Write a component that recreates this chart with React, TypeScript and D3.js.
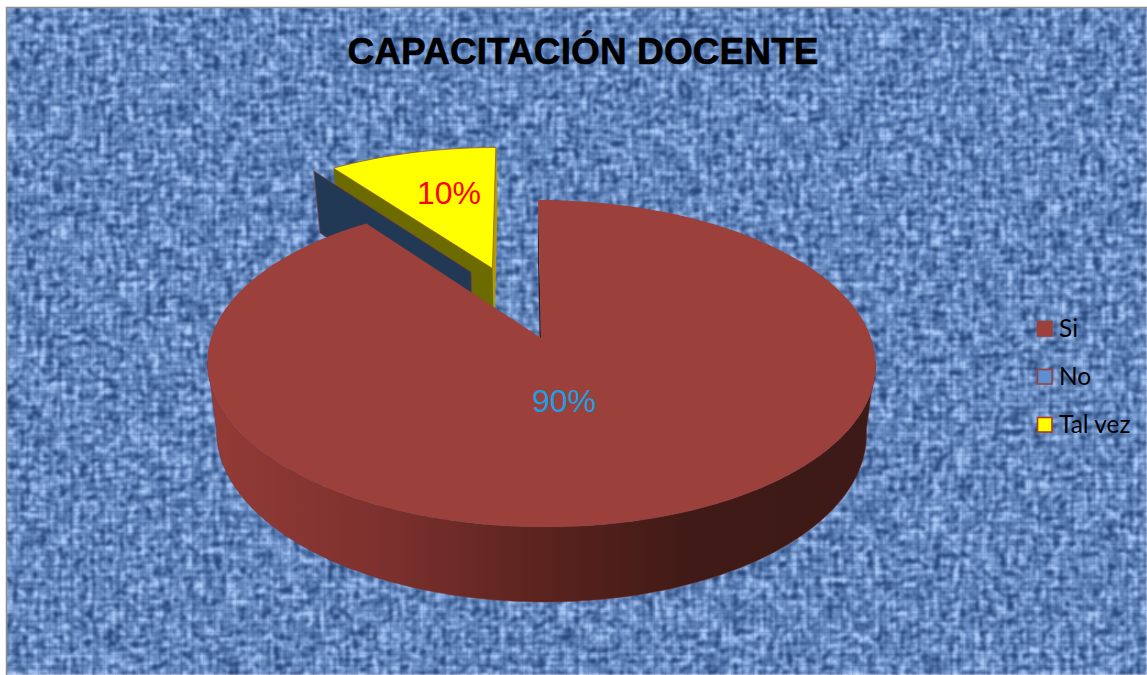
import React from "react";
import * as d3 from "d3";

const categories = ["Si", "No", "Tal vez"];
const shares = [90, 0, 10];
const shownLabels = ["90%", "", "10%"];
const W = 1147, H = 675;

// Perspective plane of the pie's top and bottom face
const k = 0.156, shear = 3.4;
const top = (u: number, v: number): [number, number] => [
  541 + (330 * u - shear * v) / (1 + k * v),
  338 - (159.5 * v) / (1 + k * v),
];
const bottom = (u: number, v: number): [number, number] => [
  541 + (321 * u - shear * v) / (1 + k * v),
  406 - (165.4 * v) / (1 + k * v),
];
const arcs = d3.pie<number>().sort(null)(shares);
const [siArc, noArc, talArc] = arcs;
const explodeTal: [number, number] = [-0.153, 0.468];
const explodeNo: [number, number] = [-0.222, 0.442];
const line = d3.line();

const sample = (a0: number, a1: number, off: [number, number], plane: typeof top) => {
  const n = Math.max(2, Math.ceil(Math.abs(a1 - a0) / 0.02));
  return d3.range(n + 1).map((i) => {
    const a = a0 + ((a1 - a0) * i) / n;
    return plane(off[0] + Math.sin(a), off[1] + Math.cos(a));
  });
};
const closed = (pts: [number, number][]) => (line(pts) ?? "") + "Z";

const zero: [number, number] = [0, 0];
const siTop = closed([top(0, 0), ...sample(siArc.startAngle, siArc.endAngle, zero, top)]);
const frontA0 = (Math.PI * 98) / 180, frontA1 = (Math.PI * 262) / 180;
const siWall = closed([
  ...sample(frontA0, frontA1, zero, top),
  ...sample(frontA0, frontA1, zero, bottom).reverse(),
]);
const siInner = closed([top(0, 0), top(0, 1), bottom(0, 1), bottom(0, 0)]);

const talTop = closed([
  top(...explodeTal),
  ...sample(talArc.startAngle, talArc.endAngle, explodeTal, top),
]);
const edge = (a: number, off: [number, number], plane: typeof top) =>
  plane(off[0] + Math.sin(a), off[1] + Math.cos(a));
const talWall = closed([
  top(...explodeTal),
  edge(talArc.startAngle, explodeTal, top),
  edge(talArc.startAngle, explodeTal, bottom),
  bottom(...explodeTal),
]);
const talSide = closed([
  top(...explodeTal),
  edge(talArc.endAngle, explodeTal, top),
  edge(talArc.endAngle, explodeTal, bottom),
  bottom(...explodeTal),
]);
const noWall = closed([
  top(...explodeNo),
  edge(noArc.startAngle, explodeNo, top),
  edge(noArc.startAngle, explodeNo, bottom),
  bottom(...explodeNo),
]);

const legendFill = ["#9c403c", "#5b8fd2", "#ffff00"];
const legendStroke = ["#9c403c", "#9c403c", "#b03a20"];
const legendY = d3.scalePoint<string>().domain(categories).range([329, 425]);

export default function App() {
  return (
    <svg
      width={W}
      height={H}
      viewBox={`0 0 ${W} ${H}`}
      style={{ position: "fixed", left: 0, top: 0, display: "block", background: "#fff" }}
    >
      <defs>
        <filter id="denim" x="0" y="0" width="100%" height="100%" colorInterpolationFilters="sRGB">
          <feTurbulence type="fractalNoise" baseFrequency="0.15 0.17" numOctaves={2} seed={4} result="a" />
          <feTurbulence type="fractalNoise" baseFrequency="0.04 0.24" numOctaves={1} seed={9} result="b" />
          <feTurbulence type="fractalNoise" baseFrequency="0.24 0.04" numOctaves={1} seed={15} result="c" />
          <feComposite in="a" in2="b" operator="arithmetic" k2={0.62} k3={0.38} result="ab" />
          <feComposite in="ab" in2="c" operator="arithmetic" k2={0.7} k3={0.3} result="abc" />
          <feColorMatrix
            in="abc"
            type="matrix"
            values="3.6 0 0 0 -1.3  3.6 0 0 0 -1.3  3.6 0 0 0 -1.3  0 0 0 0 1"
          />
          <feComponentTransfer>
            <feFuncR type="table" tableValues="0.16 0.26 0.35 0.44 0.56 0.68" />
            <feFuncG type="table" tableValues="0.28 0.39 0.49 0.58 0.69 0.8" />
            <feFuncB type="table" tableValues="0.48 0.6 0.7 0.79 0.9 0.98" />
          </feComponentTransfer>
          <feGaussianBlur stdDeviation={0.9} />
        </filter>
        <pattern id="weave" width={11} height={11} patternUnits="userSpaceOnUse">
          <path d="M0,5.5H11M5.5,0V11" stroke="#1f3f78" strokeWidth={1.6} opacity={0.16} />
        </pattern>
        <linearGradient id="wall" gradientUnits="userSpaceOnUse" x1={208} x2={877} y1={0} y2={0}>
          <stop offset="0" stopColor="#933b37" />
          <stop offset="0.27" stopColor="#7c302d" />
          <stop offset="0.5" stopColor="#5a231e" />
          <stop offset="0.72" stopColor="#401a16" />
          <stop offset="1" stopColor="#3c1a17" />
        </linearGradient>
      </defs>

      <rect x={6} y={7} width={W - 6} height={H - 7} fill="#5f86c2" filter="url(#denim)" />
      <rect x={6} y={7} width={W - 6} height={H - 7} fill="url(#weave)" />
      <path d={`M6.5,${H}V7.5H${W}`} fill="none" stroke="#8c8c8c" strokeWidth={1.5} />

      <path d={talSide} fill="#b59a00" stroke="#b59a00" strokeWidth={1} />
      <path d={talWall} fill="#6b6b00" />
      <path d={talTop} fill="#ffff00" stroke="#9c5a20" strokeWidth={0.8} />
      <path d={noWall} fill="#223955" stroke="#8a3a36" strokeWidth={0.7} />

      <path d={siInner} fill="#3f1713" />
      <path d={siWall} fill="url(#wall)" stroke="#7a2e2c" strokeWidth={0.5} />
      <path d={siTop} fill="#9c403c" />

      <text
        x={583}
        y={64}
        textAnchor="middle"
        fontFamily="'Liberation Sans', Arial, sans-serif"
        fontWeight={700}
        fontSize={37}
        textLength={471}
        lengthAdjust="spacing"
        fill="#000"
        stroke="#000"
        strokeWidth={0.6}
      >
        CAPACITACIÓN DOCENTE
      </text>

      <text x={564} y={412} textAnchor="middle" fontFamily="'Liberation Sans', Arial, sans-serif" fontSize={32} fill="#1c9fe2">
        {shownLabels[0]}
      </text>
      <text x={449} y={204} textAnchor="middle" fontFamily="'Liberation Sans', Arial, sans-serif" fontSize={32} fill="#ff0000">
        {shownLabels[2]}
      </text>

      {categories.map((c, i) => (
        <g key={c}>
          <rect
            x={1037.5}
            y={legendY(c)! - 7.5}
            width={14.5}
            height={14.5}
            fill={legendFill[i]}
            stroke={legendStroke[i]}
            strokeWidth={1.6}
          />
          <text x={1059} y={legendY(c)! + 8} fontFamily="Lato, sans-serif" fontSize={24.5} fill="#000">
            {c}
          </text>
        </g>
      ))}
    </svg>
  );
}
